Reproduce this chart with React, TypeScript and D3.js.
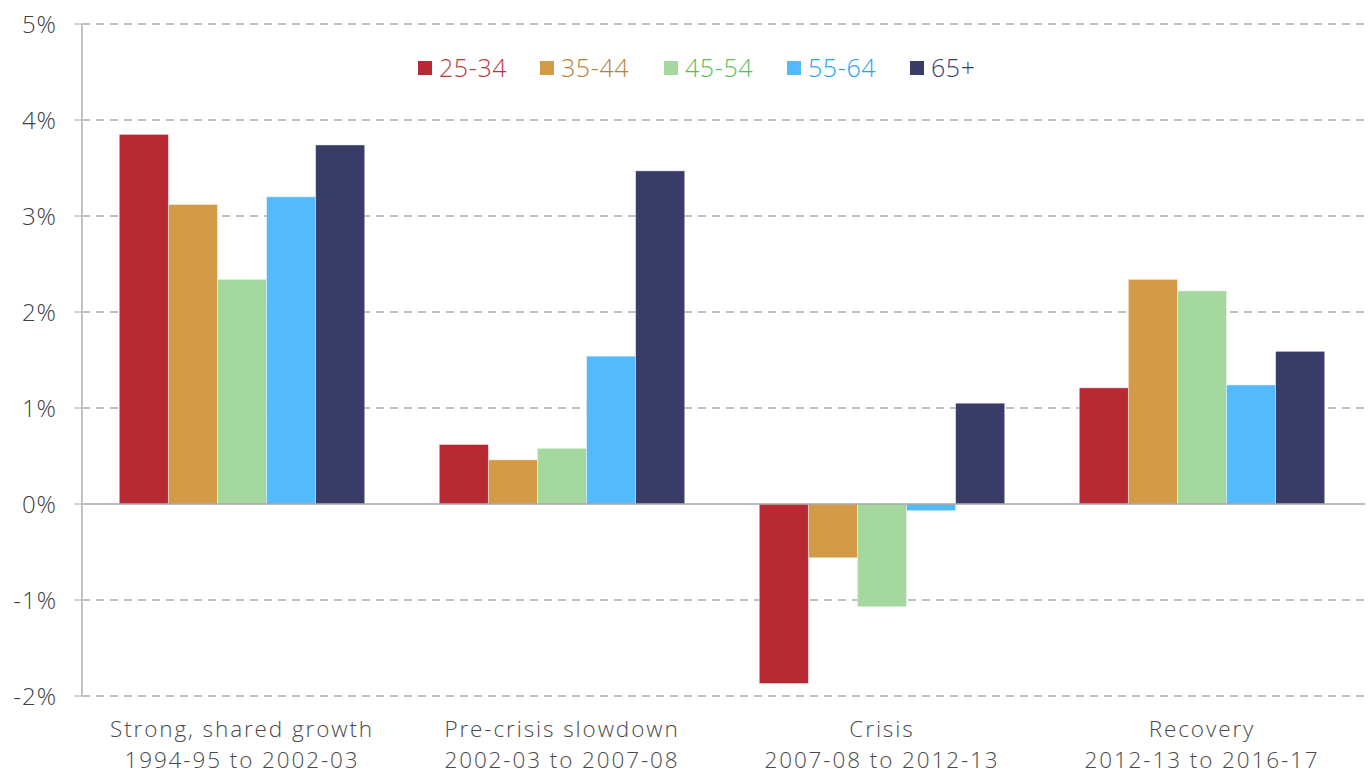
import React from "react";
import * as d3 from "d3";

const categories = ["Strong, shared growth|1994-95 to 2002-03", "Pre-crisis slowdown|2002-03 to 2007-08", "Crisis|2007-08 to 2012-13", "Recovery|2012-13 to 2016-17"];
const seriesNames = ["25-34", "35-44", "45-54", "55-64", "65+"];
const s2534 = [3.85, 0.62, -1.87, 1.21];
const s3544 = [3.12, 0.46, -0.56, 2.34];
const s4554 = [2.34, 0.58, -1.07, 2.22];
const s5564 = [3.2, 1.54, -0.07, 1.24];
const s65 = [3.74, 3.47, 1.05, 1.59];
const yTicks = [-2, -1, 0, 1, 2, 3, 4, 5];

const seriesValues = [s2534, s3544, s4554, s5564, s65];
const fills = ["#B72A33", "#D39A48", "#A5D89E", "#54BAFB", "#383C67"];
const textColors = ["#C0333C", "#B98236", "#5DBD5A", "#1DA6F5", "#3B3F6C"];

export default function App() {
  const W = 1371, H = 774;
  const left = 82, right = 1362, top = 24, bottom = 696;
  const y = d3.scaleLinear().domain([-2, 5]).range([bottom, top]);
  const x0 = d3.scaleBand<number>().domain(d3.range(categories.length)).range([left, right]).paddingInner(0.233).paddingOuter(0.1165);
  const x1 = d3.scaleBand<number>().domain(d3.range(seriesNames.length)).range([0, x0.bandwidth()]);
  const font = "'Open Sans', 'Noto Sans', sans-serif";
  const legendX = [418, 540, 664, 787, 910];

  return (
    <svg width={W} height={H} style={{ position: "absolute", left: 0, top: 0 }} fontFamily={font}>
      <rect width={W} height={H} fill="#fff" />
      {yTicks.filter(t => t !== 0).map(t => (
        <line key={"g" + t} x1={left} x2={1365} y1={y(t)} y2={y(t)} stroke="#AAAAAA" strokeWidth={1.5} strokeDasharray="8,6" />
      ))}
      {yTicks.map(t => (
        <g key={"t" + t}>
          <line x1={left - 8} x2={left} y1={y(t)} y2={y(t)} stroke="#AAAAAA" strokeWidth={1} />
          <text x={57} y={y(t)} dy="0.36em" textAnchor="end" fontSize={24} fontWeight={300} letterSpacing={1} fill="#404040">{t + "%"}</text>
        </g>
      ))}
      {seriesValues.map((vals, si) => vals.map((v, ci) => {
        const xx = (x0(ci) as number) + (x1(si) as number);
        return (
          <rect key={si + "-" + ci} x={xx} width={x1.bandwidth()} y={Math.min(y(v), y(0))} height={Math.abs(y(v) - y(0))} fill={fills[si]} stroke="#ffffff" strokeOpacity={0.5} strokeWidth={0.8} />
        );
      }))}
      <line x1={left} x2={1365} y1={y(0)} y2={y(0)} stroke="#A6A6A6" strokeWidth={1.5} />
      <line x1={left} x2={left} y1={top} y2={bottom} stroke="#C4C4C4" strokeWidth={2} />
      {categories.map((c, ci) => {
        const cx = (x0(ci) as number) + x0.bandwidth() / 2;
        const [l1, l2] = c.split("|");
        return (
          <g key={c}>
            <text x={cx} y={737} textAnchor="middle" fontSize={22.5} fontWeight={300} letterSpacing={1.9} fill="#4A4A4A">{l1}</text>
            <text x={cx} y={768} textAnchor="middle" fontSize={22.5} fontWeight={300} letterSpacing={1.9} fill="#4A4A4A">{l2}</text>
          </g>
        );
      })}
      {seriesNames.map((n, i) => (
        <g key={n}>
          <rect x={legendX[i]} y={61} width={14} height={14} fill={fills[i]} />
          <text x={legendX[i] + 21} y={77} fontSize={25} fontWeight={300} letterSpacing={0.6} fill={textColors[i]}>{n}</text>
        </g>
      ))}
    </svg>
  );
}
